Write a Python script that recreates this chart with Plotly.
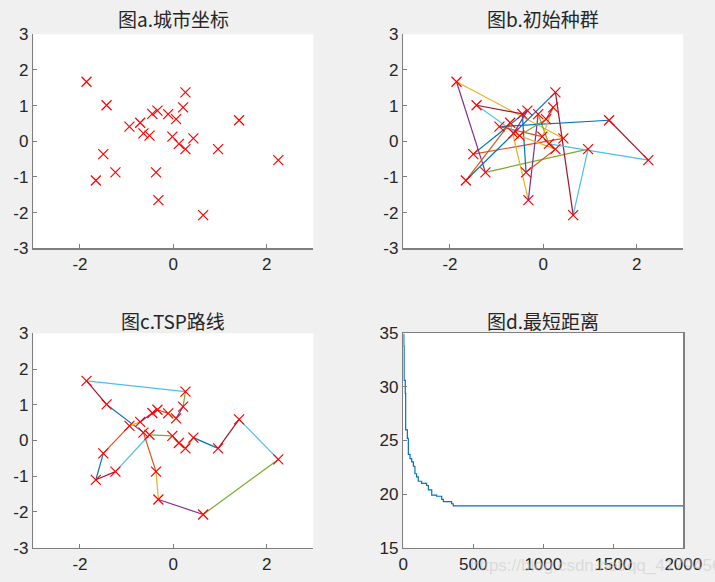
import plotly.graph_objects as go

# ---------------- data ----------------
city_x = [-1.86, -1.43, -0.94, -0.71, -0.64, -0.51, -0.45, -0.34, -0.11, 0.06,
          0.21, 0.26, -0.02, 0.12, 0.26, 0.43, 0.96, 1.41, 2.25, -1.50,
          -1.24, -1.66, -0.37, -0.32, 0.64]
city_y = [1.67, 1.01, 0.41, 0.52, 0.22, 0.16, 0.77, 0.86, 0.76, 0.62,
          0.95, 1.37, 0.13, -0.07, -0.22, 0.08, -0.22, 0.59, -0.53, -0.36,
          -0.87, -1.10, -0.87, -1.65, -2.07]

# city visiting order (1-based indices into city arrays)
initial_route = [8, 20, 16, 1, 21, 17, 25, 12, 22, 4, 24, 9, 14, 19, 18, 3,
                 13, 11, 10, 6, 2, 7, 23, 15, 5]
best_route = [7, 8, 9, 10, 11, 12, 1, 2, 5, 23, 24, 25, 19, 18, 17, 16, 15,
              14, 13, 6, 21, 22, 20, 3, 4]

iter_x = [0, 4, 6, 14, 17, 29, 36, 48, 60, 72, 83, 95, 107, 131, 167, 179,
          203, 238, 274, 286, 345, 357, 2000]
best_dist = [34.9, 33.8, 30.6, 29.4, 26.0, 25.2, 23.7, 23.3, 23.0, 22.6, 21.9,
             21.6, 21.2, 21.0, 20.8, 20.4, 19.9, 19.8, 19.5, 19.3, 19.1, 18.9, 18.9]

titles = ["图a.城市坐标", "图b.初始种群", "图c.TSP路线", "图d.最短距离"]
xy_ticks = [-3, -2, -1, 0, 1, 2, 3]
xx_ticks = [-2, 0, 2]
d_xticks = [0, 500, 1000, 1500, 2000]
d_yticks = [15, 20, 25, 30, 35]

# ---------------- style ----------------
W, H = 715, 582
COLORS = ["#0072BD", "#D95319", "#EDB120", "#7E2F8E", "#77AC30", "#4DBEEE", "#A2142F"]
AX = "#7f7f7f"
TXT = "#262626"
TICKFONT = dict(family="Liberation Sans, Arial", size=17, color=TXT)
TITLEFONT = dict(family="Noto Sans CJK SC", size=19, color=TXT)

def px_dom_x(a, b):
    return [a / W, b / W]

def px_dom_y(top, bottom):
    return [1 - bottom / H, 1 - top / H]

dom = {
    1: (px_dom_x(33.3, 313.3), px_dom_y(34.3, 248.3)),
    2: (px_dom_x(403.3, 683.3), px_dom_y(34.3, 248.3)),
    3: (px_dom_x(33.3, 313.3), px_dom_y(333.3, 547.7)),
    4: (px_dom_x(403.3, 683.3), px_dom_y(333.3, 547.7)),
}

fig = go.Figure()

def add_cities(k):
    fig.add_trace(go.Scatter(
        x=city_x, y=city_y, mode="markers", xaxis=f"x{k}", yaxis=f"y{k}",
        marker=dict(symbol="x-thin", size=10, line=dict(color="#FF0000", width=1.2)),
        showlegend=False, hoverinfo="skip"))

def add_route(k, route):
    n = len(route)
    for i in range(n):
        a = route[i] - 1
        b = route[(i + 1) % n] - 1
        fig.add_trace(go.Scatter(
            x=[city_x[a], city_x[b]], y=[city_y[a], city_y[b]], mode="lines",
            xaxis=f"x{k}", yaxis=f"y{k}",
            line=dict(color=COLORS[i % len(COLORS)], width=1.2),
            showlegend=False, hoverinfo="skip"))

add_cities(1)
add_route(2, initial_route)
add_cities(2)
add_route(3, best_route)
add_cities(3)

fig.add_trace(go.Scatter(
    x=iter_x, y=best_dist, mode="lines", xaxis="x4", yaxis="y4",
    line=dict(color="#0072BD", width=1.2, shape="hv"),
    showlegend=False, hoverinfo="skip"))

layout = dict(
    width=W, height=H,
    paper_bgcolor="#F0F0F0", plot_bgcolor="#FFFFFF",
    margin=dict(l=0, r=0, t=0, b=0, autoexpand=False),
    showlegend=False,
)

for k in range(1, 5):
    xd, yd = dom[k]
    box = (k == 4)
    common = dict(showgrid=False, zeroline=False, showline=True, linecolor=AX,
                  linewidth=1.5, mirror=box, ticks="inside", ticklen=4,
                  tickcolor=AX, tickwidth=1, tickfont=TICKFONT, fixedrange=True)
    if k < 4:
        xa = dict(common, domain=xd, range=[-3, 3], tickmode="array",
                  tickvals=xx_ticks, ticktext=[str(v) for v in xx_ticks],
                  anchor=f"y{k}")
        ya = dict(common, domain=yd, range=[-3, 3], tickmode="array",
                  tickvals=xy_ticks, ticktext=[str(v) for v in xy_ticks],
                  anchor=f"x{k}")
    else:
        xa = dict(common, domain=xd, range=[0, 2000], tickmode="array",
                  tickvals=d_xticks, ticktext=[str(v) for v in d_xticks],
                  anchor="y4")
        ya = dict(common, domain=yd, range=[15, 35], tickmode="array",
                  tickvals=d_yticks, ticktext=[str(v) for v in d_yticks],
                  anchor="x4")
    layout[f"xaxis{k}" if k > 1 else "xaxis"] = xa
    layout[f"yaxis{k}" if k > 1 else "yaxis"] = ya

fig.update_layout(**layout)

title_pos = [(173.3, 18), (543.3, 18), (173.3, 320), (543.3, 320)]
for t, (cx, cy) in zip(titles, title_pos):
    fig.add_annotation(text=t, x=cx / W, y=1 - cy / H, xref="paper", yref="paper",
                       xanchor="center", yanchor="middle", showarrow=False,
                       font=TITLEFONT)

fig.add_annotation(text="https://blog.csdn.net/qq_41794565", x=468 / W, y=1 - 565 / H,
                   xref="paper", yref="paper", xanchor="left", yanchor="middle",
                   showarrow=False,
                   font=dict(family="Liberation Sans, Arial", size=17,
                             color="rgba(200,200,200,0.55)"))

fig.write_html("out.html", config={"displayModeBar": False, "staticPlot": True},
               post_script="document.body.style.margin='0';document.body.style.overflow='hidden';")
